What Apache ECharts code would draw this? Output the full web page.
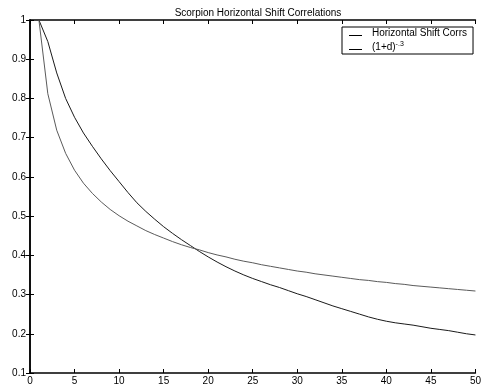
<!DOCTYPE html>
<html>
<head>
<meta charset="utf-8">
<script src="https://cdn.jsdelivr.net/npm/echarts@6/dist/echarts.min.js"></script>
<style>
  html, body { margin: 0; padding: 0; background: #fff; }
  #chart { width: 484px; height: 391px; }
</style>
</head>
<body>
<div id="chart"></div>
<script>
// lag d (x axis)
var lags = [];
for (var i = 1; i <= 50; i++) lags.push(i);

var horizCorrs = [1.0, 0.945, 0.865, 0.80, 0.752, 0.712, 0.678, 0.646, 0.616, 0.588,
  0.560, 0.534, 0.512, 0.492, 0.473, 0.456, 0.440, 0.425, 0.410, 0.396,
  0.383, 0.371, 0.360, 0.350, 0.341, 0.333, 0.325, 0.318, 0.310, 0.302,
  0.295, 0.287, 0.279, 0.271, 0.264, 0.257, 0.250, 0.243, 0.237, 0.232,
  0.228, 0.225, 0.222, 0.218, 0.214, 0.211, 0.208, 0.204, 0.200, 0.197];

// model curve (1+d)^-.3
var modelCorrs = [1.0, 0.812, 0.719, 0.660, 0.617, 0.584, 0.558, 0.536, 0.517, 0.501,
  0.487, 0.475, 0.463, 0.453, 0.444, 0.435, 0.427, 0.420, 0.414, 0.407,
  0.401, 0.396, 0.390, 0.385, 0.381, 0.376, 0.372, 0.368, 0.364, 0.360,
  0.357, 0.353, 0.350, 0.347, 0.344, 0.341, 0.338, 0.336, 0.333, 0.331,
  0.328, 0.326, 0.323, 0.321, 0.319, 0.317, 0.315, 0.313, 0.311, 0.309];

function pairs(xs, ys) {
  var out = [];
  for (var i = 0; i < xs.length; i++) out.push([xs[i], ys[i]]);
  return out;
}

var font = 'Liberation Sans, Arial, sans-serif';
var chart = echarts.init(document.getElementById('chart'));

var frameLine = { show: true, lineStyle: { color: '#000', width: 1.5 } };
var inTick = { show: true, inside: true, length: 4, lineStyle: { color: '#000', width: 1 } };
// short line low in the legend slot; tiny corner dots pin the bounds to 18x12
var lineIcon = 'path://M0,0 L0.01,0 L0.01,0.01 Z M18,12 L17.99,12 L18,11.99 Z M0,8 L13,8 L13,9 L0,9 Z';

chart.setOption({
  backgroundColor: '#fff',
  animation: false,
  title: {
    text: 'Scorpion Horizontal Shift Correlations',
    left: 253, top: 3, textAlign: 'center',
    textStyle: { fontFamily: font, fontSize: 10, fontWeight: 'normal', color: '#000' }
  },
  legend: {
    orient: 'vertical',
    left: 342, top: 27,
    padding: [0, 6, 1, 7],
    itemGap: 2,
    itemWidth: 18, itemHeight: 12,
    icon: lineIcon,
    borderColor: '#000', borderWidth: 1,
    backgroundColor: '#fff',
    textStyle: {
      fontFamily: font, fontSize: 10, color: '#000', lineHeight: 12,
      rich: { sup: { fontSize: 7, verticalAlign: 'top', lineHeight: 12, padding: [0, 0, 5, 0], fontFamily: font } }
    },
    formatter: function (name) {
      if (name === '(1+d)-.3') return '(1+d){sup|-.3}';
      return name;
    },
    data: [
      { name: 'Horizontal Shift Corrs', itemStyle: { color: '#000' } },
      { name: '(1+d)-.3', itemStyle: { color: '#000' } }
    ]
  },
  grid: { left: 30, right: 8, top: 20, bottom: 18 },
  xAxis: [{
    type: 'value', min: 0, max: 50, interval: 5,
    axisLine: frameLine, axisTick: inTick, splitLine: { show: false },
    axisLabel: { fontFamily: font, fontSize: 10, color: '#000', margin: 3 }
  }, {
    type: 'value', position: 'top', min: 0, max: 50, interval: 5,
    axisLine: frameLine, axisTick: inTick, splitLine: { show: false },
    axisLabel: { show: false }
  }],
  yAxis: [{
    type: 'value', min: 0.1, max: 1, interval: 0.1,
    axisLine: frameLine, axisTick: inTick, splitLine: { show: false },
    axisLabel: {
      fontFamily: font, fontSize: 10, color: '#000', margin: 4,
      formatter: function (v) { return String(Math.round(v * 10) / 10); }
    }
  }, {
    type: 'value', position: 'right', min: 0.1, max: 1, interval: 0.1,
    axisLine: frameLine, axisTick: inTick, splitLine: { show: false },
    axisLabel: { show: false }
  }],
  series: [{
    name: 'Horizontal Shift Corrs',
    type: 'line', symbol: 'none',
    data: pairs(lags, horizCorrs),
    lineStyle: { color: '#1a1a1a', width: 1 },
    itemStyle: { color: '#1a1a1a' }
  }, {
    name: '(1+d)-.3',
    type: 'line', symbol: 'none',
    data: pairs(lags, modelCorrs),
    lineStyle: { color: '#5a5a5a', width: 1 },
    itemStyle: { color: '#5a5a5a' }
  }]
});
</script>
</body>
</html>
